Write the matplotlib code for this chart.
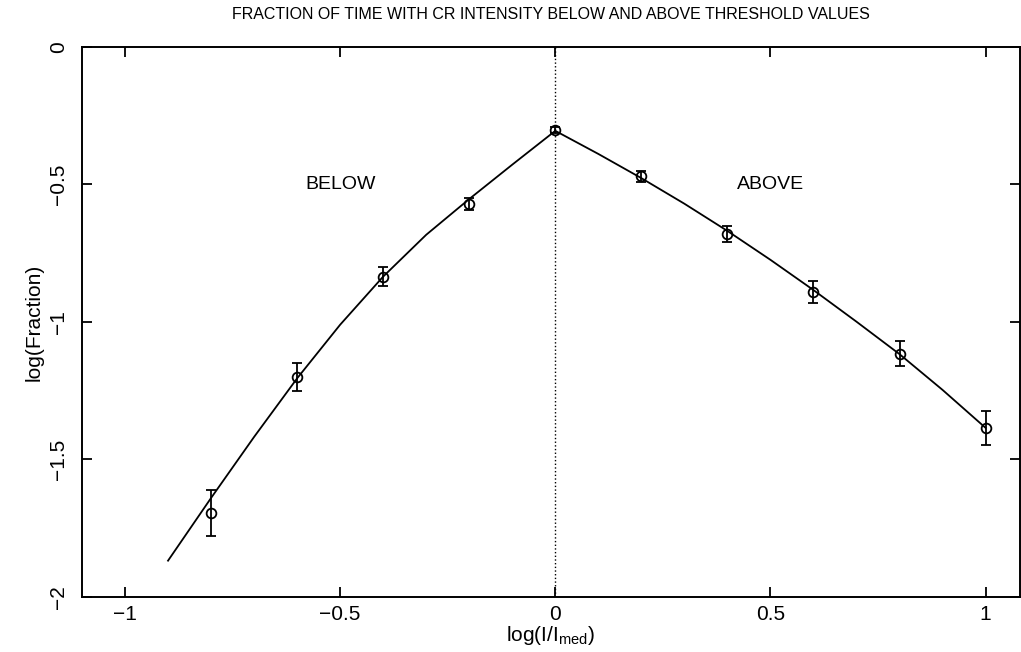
import matplotlib
matplotlib.use("Agg")
import matplotlib.pyplot as plt

plt.rcParams['font.family'] = ['Liberation Sans', 'DejaVu Sans']
plt.rcParams['mathtext.default'] = 'regular'

# measured points: log(I/Imed) vs log(fraction) with errors
x_pts = [-0.8, -0.6, -0.4, -0.2, 0.0, 0.2, 0.4, 0.6, 0.8, 1.0]
y_pts = [-1.695, -1.20, -0.836, -0.571, -0.302, -0.471, -0.680, -0.891, -1.116, -1.385]
y_err = [0.085, 0.05, 0.035, 0.022, 0.01, 0.02, 0.03, 0.04, 0.045, 0.063]

# fitted curves
below_x = [-0.9, -0.8, -0.7, -0.6, -0.5, -0.4, -0.3, -0.2, -0.1, 0.0]
below_y = [-1.868, -1.640, -1.418, -1.205, -1.010, -0.835, -0.683, -0.553, -0.428, -0.305]
above_x = [0.0, 0.1, 0.2, 0.3, 0.4, 0.5, 0.6, 0.7, 0.8, 0.9, 1.0]
above_y = [-0.305, -0.389, -0.477, -0.570, -0.669, -0.774, -0.884, -0.999, -1.117, -1.247, -1.385]

fig = plt.figure(figsize=(10.21, 6.52), dpi=100)
ax = fig.add_axes([0.0803, 0.0844, 0.9187, 0.8436])

ax.plot(below_x, below_y, color='black', lw=1.3)
ax.plot(above_x, above_y, color='black', lw=1.3)
ax.errorbar(x_pts, y_pts, yerr=y_err, fmt='o', mfc='none', mec='black', ms=7, mew=1.3,
            ecolor='black', elinewidth=1.3, capsize=3.5, capthick=1.3, zorder=3)
ax.axvline(0, color='black', lw=1, ls=':')

ax.text(-0.5, -0.5, "BELOW", ha='center', va='center', fontsize=14)
ax.text(0.5, -0.5, "ABOVE", ha='center', va='center', fontsize=14)

ax.set_xlim(-1.1, 1.08)
ax.set_ylim(-2, 0)
ax.set_xticks([-1, -0.5, 0, 0.5, 1])
ax.set_xticklabels(['\u22121', '\u22120.5', '0', '0.5', '1'])
ax.set_yticks([-2, -1.5, -1, -0.5, 0])
ax.set_yticklabels(['\u22122', '\u22121.5', '\u22121', '\u22120.5', '0'], rotation=90, va='center')
ax.tick_params(direction='in', length=7, width=1.3, labelsize=15, top=True, right=True)
ax.tick_params(axis='x', pad=6)
ax.tick_params(axis='y', pad=10)
for s in ax.spines.values():
    s.set_linewidth(1.4)

ax.set_xlabel(r'log(I/I$_{med}$)', fontsize=15, labelpad=0)
ax.set_ylabel('log(Fraction)', fontsize=15, labelpad=4)
fig.text(0.54, 0.977, "FRACTION OF TIME WITH CR INTENSITY BELOW AND ABOVE THRESHOLD VALUES",
         ha='center', va='center', fontsize=11.5)

fig.savefig("out.png", dpi=100)
